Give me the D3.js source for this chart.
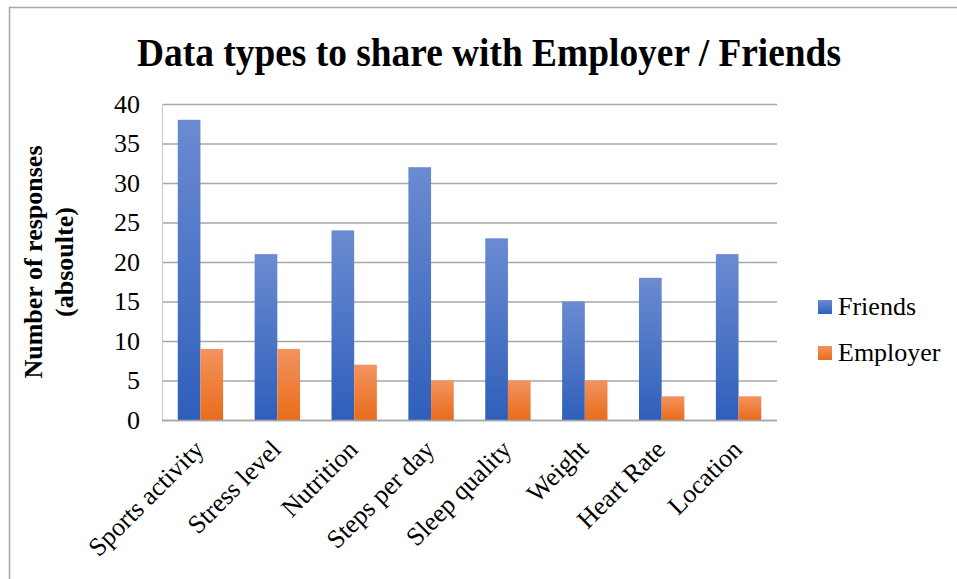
<html>
<head>
  <script src="https://d3js.org/d3.v7.min.js"></script>
  <style>
    body { margin: 0; background: #fff; }
    svg text { font-family: "Liberation Serif", "Times New Roman", serif; fill: #000; }
  </style>
</head>
<body>
  <svg id="chart" width="957" height="579"></svg>
  <script>
    // Chart values
    const categories = ["Sports activity", "Stress level", "Nutrition", "Steps per day",
      "Sleep quality", "Weight", "Heart Rate", "Location"];
    const friends = [38, 21, 24, 32, 23, 15, 18, 21];
    const employer = [9, 9, 7, 5, 5, 5, 3, 3];
    const seriesNames = ["Friends", "Employer"];
    const yTicks = [0, 5, 10, 15, 20, 25, 30, 35, 40];

    const serif = "'Liberation Serif', 'Times New Roman', serif";
    const svg = d3.select("#chart");
    const margin = { left: 162, top: 104, right: 180, bottom: 159 };
    const width = 957 - margin.left - margin.right;
    const height = 579 - margin.top - margin.bottom;

    // outer frame (only top and left are visible in the picture)
    svg.append("path")
      .attr("d", "M9.5,600 L9.5,7.5 L960,7.5")
      .attr("fill", "none")
      .attr("stroke", "#a6a6a6")
      .attr("stroke-width", 1.5);

    // gradients
    const defs = svg.append("defs");
    const grads = [
      { id: "gFriends", top: "#6b8bd1", bottom: "#2f5fbb" },
      { id: "gEmployer", top: "#f39360", bottom: "#e96c1a" }
    ];
    grads.forEach(g => {
      const lg = defs.append("linearGradient")
        .attr("id", g.id).attr("x1", 0).attr("y1", 0).attr("x2", 0).attr("y2", 1);
      lg.append("stop").attr("offset", "0%").attr("stop-color", g.top);
      lg.append("stop").attr("offset", "100%").attr("stop-color", g.bottom);
    });

    // title, slightly condensed like the source
    svg.append("text")
      .attr("transform", "translate(489,66) scale(0.935,1)")
      .attr("text-anchor", "middle")
      .style("font-family", serif)
      .style("font-size", "40px")
      .style("font-weight", "bold")
      .text("Data types to share with Employer / Friends");

    const g = svg.append("g")
      .attr("transform", "translate(" + margin.left + "," + margin.top + ")");

    const x = d3.scaleBand().domain(categories).range([0, width]).paddingInner(0.41).paddingOuter(0.205);
    const xSub = d3.scaleBand().domain(seriesNames).range([0, x.bandwidth()]);
    const y = d3.scaleLinear().domain([0, 40]).range([height, 0]);

    // grid lines
    g.selectAll(".grid")
      .data(yTicks)
      .enter()
      .append("line")
      .attr("x1", 0)
      .attr("x2", width)
      .attr("y1", d => y(d) + 0.5)
      .attr("y2", d => y(d) + 0.5)
      .attr("stroke", "#a6a6a6")
      .attr("stroke-width", 1.3);

    g.append("line")
      .attr("x1", 0.5).attr("x2", 0.5)
      .attr("y1", 0).attr("y2", height)
      .attr("stroke", "#c8c8c8");

    const data = categories.map((c, i) => ({ cat: c, values: [friends[i], employer[i]] }));

    const groups = g.selectAll(".grp")
      .data(data)
      .enter()
      .append("g")
      .attr("transform", d => "translate(" + x(d.cat) + ",0)");

    groups.selectAll("rect")
      .data(d => d.values.map((v, j) => ({ name: seriesNames[j], value: v })))
      .enter()
      .append("rect")
      .attr("x", d => xSub(d.name))
      .attr("width", xSub.bandwidth())
      .attr("y", d => y(d.value))
      .attr("height", d => height - y(d.value))
      .attr("fill", d => d.name === "Friends" ? "url(#gFriends)" : "url(#gEmployer)");

    // bottom axis line over bars
    g.append("line")
      .attr("x1", 0).attr("x2", width)
      .attr("y1", height + 0.5).attr("y2", height + 0.5)
      .attr("stroke", "#a6a6a6")
      .attr("stroke-width", 1.5);

    // y tick labels
    const yAxis = d3.axisLeft(y).tickValues(yTicks).tickSize(0).tickPadding(22);
    const ya = g.append("g").call(yAxis);
    ya.attr("font-family", null);
    ya.select(".domain").remove();
    ya.selectAll("text")
      .style("font-family", serif)
      .style("font-size", "26px")
      .attr("fill", "#000");

    // x labels rotated
    g.selectAll(".xlab")
      .data(categories)
      .enter()
      .append("text")
      .attr("text-anchor", "end")
      .attr("transform", d => "translate(" + (x(d) + x.bandwidth() / 2 + 5) + "," + (height + 31) + ") rotate(-45)")
      .style("font-family", serif)
      .style("font-size", "26px")
      .text(d => d);

    // y axis title
    const yt = svg.append("text")
      .attr("transform", "translate(42,262) rotate(-90)")
      .attr("text-anchor", "middle")
      .style("font-family", serif)
      .style("font-size", "26px")
      .style("font-weight", "bold");
    yt.append("tspan").attr("x", 0).attr("dy", 0).text("Number of responses");
    yt.append("tspan").attr("x", 0).attr("dy", 31).text("(absoulte)");

    // legend
    const legend = svg.append("g").attr("transform", "translate(818,300)");
    seriesNames.forEach((s, i) => {
      legend.append("rect")
        .attr("x", 0).attr("y", i * 46)
        .attr("width", 14).attr("height", 14)
        .attr("fill", i === 0 ? "url(#gFriends)" : "url(#gEmployer)");
      legend.append("text")
        .attr("x", 20).attr("y", i * 46 + 15)
        .style("font-family", serif)
        .style("font-size", "26px")
        .text(s);
    });
  </script>
</body>
</html>
